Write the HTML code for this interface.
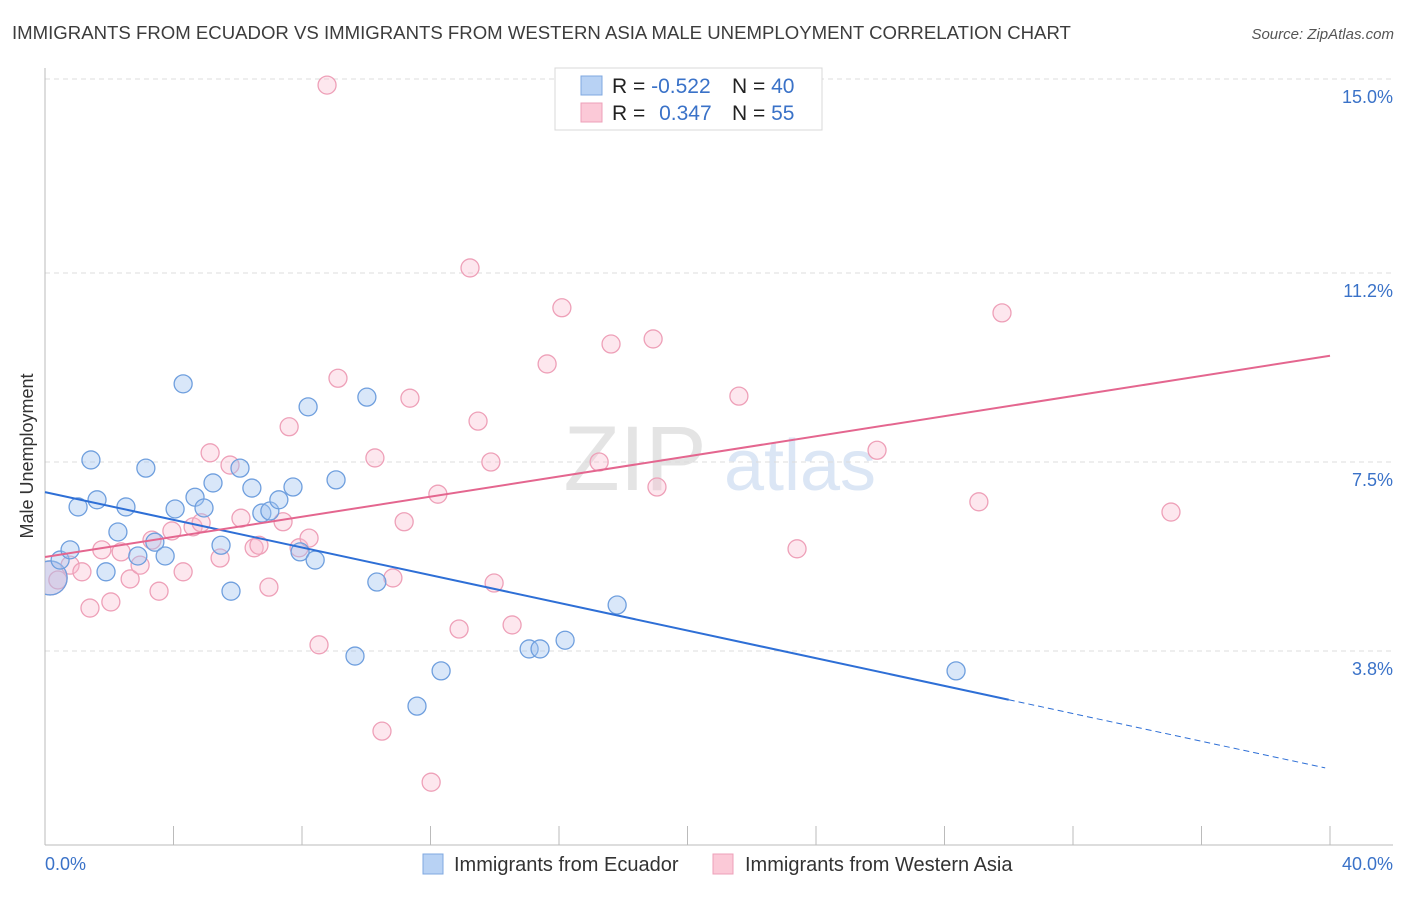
<!DOCTYPE html>
<html><head><meta charset="utf-8">
<style>
body{margin:0;background:#fff;font-family:"Liberation Sans",sans-serif;}
svg text{font-family:"Liberation Sans",sans-serif;}
</style></head>
<body>
<svg id="chart" width="1406" height="892" xmlns="http://www.w3.org/2000/svg">
<text x="12" y="39" font-size="18.6" fill="#3c3c3c">IMMIGRANTS FROM ECUADOR VS IMMIGRANTS FROM WESTERN ASIA MALE UNEMPLOYMENT CORRELATION CHART</text>
<text x="1394" y="39" font-size="15" fill="#555" text-anchor="end" font-style="italic">Source: ZipAtlas.com</text>
<text transform="translate(33,456) rotate(-90)" font-size="18" fill="#333" text-anchor="middle">Male Unemployment</text>
<g>
<text x="635" y="490" font-size="92" fill="#e4e4e4" font-family="Liberation Serif,serif" text-anchor="middle">ZIP</text>
<text x="800" y="490" font-size="72" fill="#dbe6f5" text-anchor="middle">atlas</text>
</g>
<g id="grid"></g>
<g id="axes"></g>
<defs><clipPath id="plotclip"><rect x="45" y="60" width="1360" height="785"/></clipPath></defs>
<g id="pts" clip-path="url(#plotclip)"></g>
<g id="lines"></g>
<g>
<rect x="555" y="68" width="267" height="62" fill="#fff" stroke="#d8d8d8"/>
<rect x="581" y="76" width="21" height="19" fill="#b8d2f4" stroke="#7fa8e0"/>
<rect x="581" y="103" width="21" height="19" fill="#fbc9d7" stroke="#eea0b8"/>
<text x="612" y="93" font-size="21" fill="#222">R = <tspan fill="#3a72c8">-0.522</tspan></text>
<text x="732" y="93" font-size="21" fill="#222">N = <tspan fill="#3a72c8">40</tspan></text>
<text x="612" y="120" font-size="21" fill="#222">R = <tspan fill="#3a72c8" dx="8">0.347</tspan></text>
<text x="732" y="120" font-size="21" fill="#222">N = <tspan fill="#3a72c8">55</tspan></text>
</g>
<g>
<rect x="423" y="854" width="20" height="20" fill="#b8d2f4" stroke="#7fa8e0"/>
<text x="454" y="871" font-size="20" fill="#333">Immigrants from Ecuador</text>
<rect x="713" y="854" width="20" height="20" fill="#fbc9d7" stroke="#eea0b8"/>
<text x="745" y="871" font-size="20" fill="#333">Immigrants from Western Asia</text>
</g>
</svg>
<script>
const yTicks=[3.8,7.5,11.2,15.0];
const yTickLabels=["3.8%","7.5%","11.2%","15.0%"];
const xTickLabels=["0.0%","40.0%"];
const ecuadorX=[0.16,0.47,0.78,1.03,1.43,1.62,1.90,2.27,2.52,2.89,3.14,3.42,3.74,4.05,4.30,4.67,4.95,5.23,5.48,5.79,6.07,6.44,6.75,7.00,7.28,7.72,7.94,8.19,8.41,9.06,9.65,10.02,10.33,11.58,12.33,15.07,15.41,16.19,17.81,28.36];
const ecuadorY=[5.23,5.58,5.78,6.62,7.54,6.76,5.35,6.13,6.62,5.66,7.38,5.93,5.66,6.58,9.03,6.81,6.60,7.09,5.87,4.97,7.38,6.99,6.50,6.54,6.76,7.01,5.74,8.58,5.58,7.15,3.70,8.77,5.15,2.72,3.41,3.84,3.84,4.01,4.70,3.41];
const asiaX=[0.16,0.40,0.78,1.15,1.40,1.77,2.05,2.37,2.65,2.96,3.33,3.55,3.95,4.30,4.61,4.86,5.14,5.45,5.76,6.10,6.51,6.66,6.97,7.41,7.60,7.91,8.22,8.53,8.78,9.12,10.27,10.49,10.83,11.18,11.36,12.02,12.23,12.89,13.23,13.48,13.88,13.98,14.54,15.63,16.09,17.25,17.62,18.93,19.05,21.60,23.41,25.90,29.07,29.79,35.05];
const asiaY=[5.23,5.19,5.48,5.35,4.64,5.78,4.76,5.74,5.21,5.48,5.97,4.97,6.15,5.35,6.23,6.31,7.68,5.62,7.44,6.40,5.82,5.87,5.05,6.33,8.19,5.82,6.01,3.92,14.88,9.14,7.58,2.23,5.23,6.33,8.75,1.23,6.87,4.23,11.30,8.30,7.50,5.13,4.31,9.42,10.52,7.50,9.81,9.91,7.01,8.79,5.80,7.73,6.72,10.42,6.52];
const ecuadorTrend=[6.91,-0.1355];
const asiaTrend=[5.64,0.0985];
const NS="http://www.w3.org/2000/svg";
function X(v){return 45+v/40*1285;}
function Y(v){return 462-(v-7.5)*51.07;}
function mk(tag,attrs,parent){const e=document.createElementNS(NS,tag);for(const k in attrs)e.setAttribute(k,attrs[k]);parent.appendChild(e);return e;}
const grid=document.getElementById('grid'),axes=document.getElementById('axes'),pts=document.getElementById('pts'),lines=document.getElementById('lines');
yTicks.forEach((t,i)=>{
 const l=mk('line',{x1:45,x2:1393,y1:Y(t),y2:Y(t),stroke:'#dcdcdc','stroke-dasharray':'5,4'},grid);
 
 
 const tx=mk('text',{x:1393,y:Y(t)+24,'font-size':18,fill:'#3a72c8','text-anchor':'end'},grid);
 tx.textContent=yTickLabels[i];
 
 
});
const ax=mk('line',{x1:45,x2:1393,y1:845,y2:845,stroke:'#bbb'},axes);


const ay=mk('line',{x1:45,x2:45,y1:68,y2:845,stroke:'#bbb'},axes);


for(let i=0;i<=10;i++){
 const t=mk('line',{x1:X(i*4),x2:X(i*4),y1:826,y2:845,stroke:'#bbb'},axes);
 
 
}
const xl0=mk('text',{x:45,y:870,'font-size':18,fill:'#3a72c8'},axes);xl0.textContent=xTickLabels[0];


const xl1=mk('text',{x:1393,y:870,'font-size':18,fill:'#3a72c8','text-anchor':'end'},axes);xl1.textContent=xTickLabels[1];


function dots(xs,ys,fill,stroke,name){
 xs.forEach((x,i)=>{
  const r=(i===0)?17:9;
  const c=mk('circle',{cx:X(x),cy:Y(ys[i]),r:r,fill:fill,stroke:stroke,'stroke-width':1.3},pts);
  
  
 });
}
dots(asiaX,asiaY,'rgba(248,185,205,0.35)','#eea0b8','western-asia-point');
dots(ecuadorX,ecuadorY,'rgba(160,195,240,0.4)','#6f9fde','ecuador-point');
const bs=mk('line',{x1:X(0),y1:Y(ecuadorTrend[0]),x2:X(30),y2:Y(ecuadorTrend[0]+ecuadorTrend[1]*30),stroke:'#2e6fd6','stroke-width':2},lines);


const bd=mk('line',{x1:X(30),y1:Y(ecuadorTrend[0]+ecuadorTrend[1]*30),x2:X(39.85),y2:Y(ecuadorTrend[0]+ecuadorTrend[1]*39.85),stroke:'#2e6fd6','stroke-width':1,'stroke-dasharray':'6,4'},lines);


const pl=mk('line',{x1:X(0),y1:Y(asiaTrend[0]),x2:X(40),y2:Y(asiaTrend[0]+asiaTrend[1]*40),stroke:'#e4668f','stroke-width':2},lines);


</script>
</body></html>
